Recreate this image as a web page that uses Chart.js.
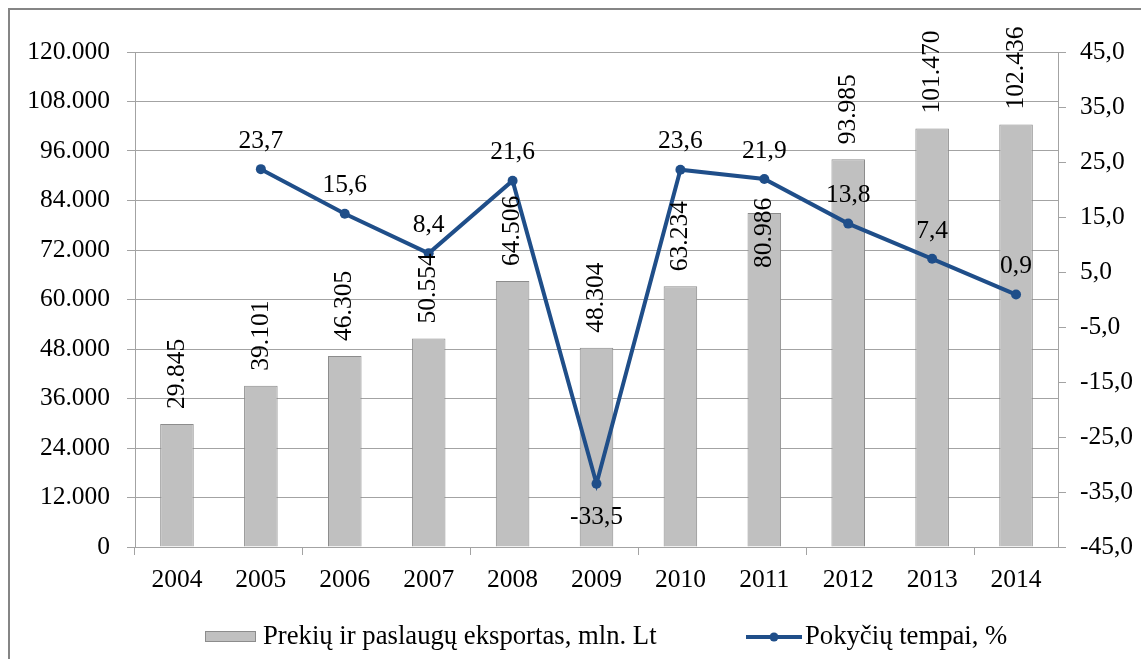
<!DOCTYPE html>
<html>
<head>
<meta charset="utf-8">
<script src="https://cdn.jsdelivr.net/npm/chart.js@4.4.1/dist/chart.umd.min.js"></script>
<style>
  html, body { margin: 0; padding: 0; background: #fff; overflow: hidden; }
  #wrap { position: relative; width: 1141px; height: 659px; }
  #frame { position: absolute; left: 8px; top: 8px; width: 1200px; height: 700px; border: 2px solid #858585; box-sizing: border-box; pointer-events: none; }
  canvas { position: absolute; left: 0; top: 0; }
</style>
</head>
<body>
<div id="wrap">
  <canvas id="chart" width="1141" height="659"></canvas>
  <div id="frame"></div>
</div>
<script>
const years = ['2004', '2005', '2006', '2007', '2008', '2009', '2010', '2011', '2012', '2013', '2014']
const exportsMlnLt = [29845, 39101, 46305, 50554, 64506, 48304, 63234, 80986, 93985, 101470, 102436]
const changeRate = [null, 23.7, 15.6, 8.4, 21.6, -33.5, 23.6, 21.9, 13.8, 7.4, 0.9]
const barLabel = 'Prekių ir paslaugų eksportas, mln. Lt'
const lineLabel = 'Pokyčių tempai, %'

const FONT = '"Liberation Serif", "Times New Roman", serif'
const FONT_SIZE = 25.5
const LEGEND_SIZE = 26.7
const LINE_COLOR = '#1f4e89'
const GRID = '#a3a3a3'

const thousands = v => String(Math.round(v)).replace(/\B(?=(\d{3})+(?!\d))/g, '.')
const decimal = v => v.toFixed(1).replace('.', ',')

// value labels + legend, drawn by hand
const labelsPlugin = {
  id: 'valueLabels',
  afterDatasetsDraw(chart) {
    const ctx = chart.ctx
    ctx.save()
    ctx.fillStyle = '#000'
    ctx.font = `${FONT_SIZE}px ${FONT}`

    // bar labels, vertical
    const barMeta = chart.getDatasetMeta(0)
    barMeta.data.forEach((el, i) => {
      const nudge = i === 7 ? 70 : 0   // 2011 label sits inside the bar
      ctx.save()
      ctx.translate(el.x, el.y - 15 + nudge)
      ctx.rotate(-Math.PI / 2)
      ctx.textAlign = 'left'
      ctx.textBaseline = 'middle'
      ctx.fillText(thousands(exportsMlnLt[i]), 0, 0)
      ctx.restore()
    })

    // line labels
    const lineMeta = chart.getDatasetMeta(1)
    lineMeta.data.forEach((el, i) => {
      const v = changeRate[i]
      if (v === null) return
      ctx.textAlign = 'center'
      ctx.textBaseline = 'middle'
      const dy = v < 0 ? 34 : -28
      ctx.fillText(decimal(v), el.x, el.y + dy)
    })
    ctx.restore()
  },
  afterDraw(chart) {
    const ctx = chart.ctx
    const ly = 637
    ctx.save()
    // bar swatch
    ctx.fillStyle = '#c0c0c0'
    ctx.fillRect(205, 631, 51, 11)
    ctx.strokeStyle = '#8c8c8c'
    ctx.lineWidth = 1
    ctx.strokeRect(205.5, 631.5, 50, 10)
    ctx.fillStyle = '#000'
    ctx.font = `${LEGEND_SIZE}px ${FONT}`
    ctx.textAlign = 'left'
    ctx.textBaseline = 'middle'
    ctx.fillText(barLabel, 263, ly)
    // line swatch
    ctx.strokeStyle = LINE_COLOR
    ctx.lineWidth = 4
    ctx.beginPath()
    ctx.moveTo(746, ly)
    ctx.lineTo(802, ly)
    ctx.stroke()
    ctx.fillStyle = LINE_COLOR
    ctx.beginPath()
    ctx.arc(774, ly, 4.5, 0, Math.PI * 2)
    ctx.fill()
    ctx.fillStyle = '#000'
    ctx.fillText(lineLabel, 805, ly)
    ctx.restore()
  }
}

new Chart(document.getElementById('chart'), {
  data: {
    labels: years,
    datasets: [
      {
        type: 'bar',
        label: barLabel,
        data: exportsMlnLt,
        yAxisID: 'y',
        backgroundColor: '#c0c0c0',
        borderColor: '#8c8c8c',
        borderWidth: 1,
        borderSkipped: 'bottom',
        barPercentage: 0.4,
        categoryPercentage: 1,
        order: 2
      },
      {
        type: 'line',
        label: lineLabel,
        data: changeRate,
        yAxisID: 'y1',
        borderColor: LINE_COLOR,
        backgroundColor: LINE_COLOR,
        borderWidth: 4,
        pointRadius: 5,
        pointBackgroundColor: LINE_COLOR,
        pointBorderWidth: 0,
        tension: 0,
        spanGaps: false,
        order: 1
      }
    ]
  },
  options: {
    responsive: false,
    animation: false,
    layout: { padding: { top: 52, left: 0, right: 0, bottom: 0 } },
    plugins: {
      legend: { display: false },
      tooltip: { enabled: false }
    },
    scales: {
      x: {
        offset: true,
        grid: {
          offset: true,
          drawOnChartArea: false,
          tickLength: 8,
          color: c => (c.index % 2 === 0 ? GRID : 'rgba(0,0,0,0)')
        },
        border: { color: GRID },
        ticks: {
          color: '#000',
          padding: 10,
          maxRotation: 0,
          font: { family: FONT, size: FONT_SIZE }
        },
        afterFit: s => { s.height = 112 }
      },
      y: {
        position: 'left',
        min: 0,
        max: 120000,
        grid: { color: GRID, tickLength: 8 },
        border: { color: GRID },
        ticks: {
          stepSize: 12000,
          color: '#000',
          padding: 17,
          font: { family: FONT, size: FONT_SIZE },
          callback: v => thousands(v)
        },
        afterFit: s => { s.width = 135 }
      },
      y1: {
        position: 'right',
        min: -45,
        max: 45,
        grid: { drawOnChartArea: false, color: GRID, tickLength: 8 },
        border: { color: GRID },
        ticks: {
          stepSize: 10,
          color: '#000',
          padding: 14,
          font: { family: FONT, size: FONT_SIZE },
          callback: v => decimal(v)
        },
        afterFit: s => { s.width = 83 }
      }
    }
  },
  plugins: [labelsPlugin]
})
</script>
</body>
</html>
